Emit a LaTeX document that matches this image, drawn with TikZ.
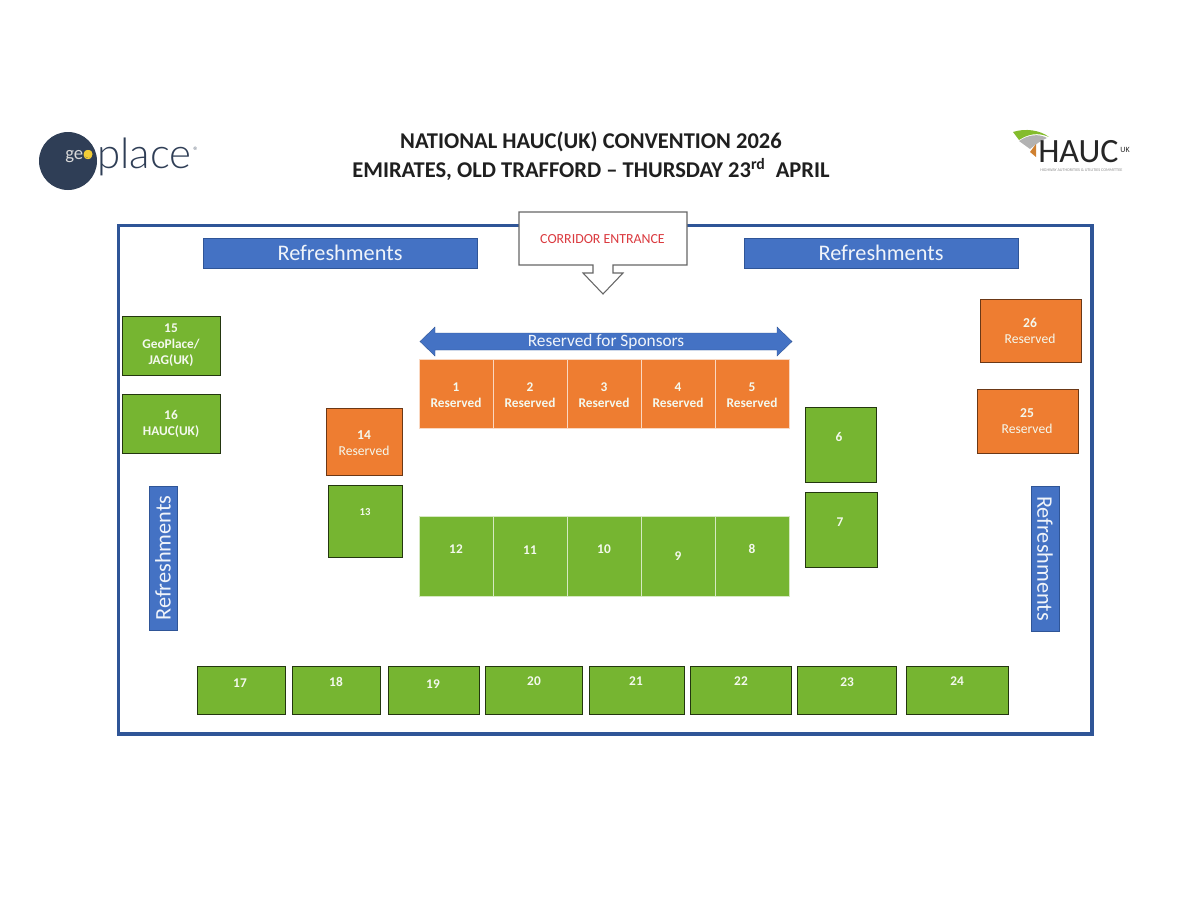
\documentclass[tikz,border=0pt]{standalone}
\usepackage{fontspec}
\setmainfont{Carlito}
\newfontfamily\logofont{Lato Light}
\definecolor{grn}{HTML}{76B531}
\definecolor{org}{HTML}{EE7D31}
\definecolor{blu}{HTML}{4472C4}
\definecolor{frm}{HTML}{2F5597}
\definecolor{navy}{HTML}{2F3E56}
\definecolor{corrred}{HTML}{DB3A3F}
\definecolor{dot}{HTML}{F2CD37}
\newcommand{\pxfont}[2]{\fontsize{#1}{#2}\selectfont}
\newcommand{\booth}[6]{% name x1 y1 x2 y2 style
  \node[#6, minimum width=(#4-#2)*0.75pt, minimum height=(#5-#3)*0.75pt] (#1) at ({(#2+#4)/2},{(#3+#5)/2}) {};}
\begin{document}
\begin{tikzpicture}[x=0.75pt,y=-0.75pt,
  boxbase/.style={rectangle,inner sep=0pt,outer sep=0pt},
  gbox/.style={boxbase,fill=grn,draw=black!70!grn,line width=0.6pt},
  obox/.style={boxbase,fill=org,draw=black!55!org,line width=0.6pt},
  gcell/.style={boxbase,fill=grn,draw=white!70!grn,line width=0.6pt},
  ocell/.style={boxbase,fill=org,draw=white!70!org,line width=0.6pt},
  rbox/.style={boxbase,fill=blu,draw=frm,line width=0.4pt},
  lab/.style={text=white!92!grn,font=\pxfont{10}{12}\bfseries,align=center,inner sep=0pt},
  lablight/.style={text=white!92!grn,font=\pxfont{10.2}{12}\selectfont,align=center,inner sep=0pt},
  reftext/.style={text=white!92!blu,font=\pxfont{16.7}{18}\selectfont,inner sep=0pt},
  titletext/.style={font=\pxfont{16.9}{22}\bfseries,text=black!88,align=center,inner sep=0pt}]
\useasboundingbox (0,0) rectangle (1200,900);
\fill[white] (0,0) rectangle (1200,900);

% title
\node[titletext] (title) at (591,156) {NATIONAL HAUC(UK) CONVENTION 2026\\EMIRATES, OLD TRAFFORD -- THURSDAY 23\textsuperscript{rd}\ \ APRIL};

% geoplace logo
\fill[navy] (68,161) circle [radius=29];
\fill[dot] (88.5,154) circle [radius=4];
\node[text=white!85!black,font=\pxfont{14}{16}\selectfont,inner sep=0pt,anchor=base west] (geo) at (65,159.5) {ge\textcolor{dot}{o}};
\node[text=navy,font=\logofont\pxfont{31.5}{34}\selectfont,inner sep=0pt,anchor=base west] (place) at (97,168.5) {place};
\node[text=navy!70,font=\pxfont{8}{9}\selectfont,inner sep=0pt] (reg) at (196,151) {®};

% HAUC logo
\fill[grn!90!yellow] (1013,132) .. controls (1025,128) and (1040,130) .. (1049,137) .. controls (1038,132) and (1028,134) .. (1019,140) -- cycle;
\fill[black!30] (1019,141) .. controls (1028,135) and (1038,133) .. (1047,138) .. controls (1042,140) and (1036,144) .. (1030,149) -- cycle;
\fill[brown!75!orange] (1030,152) -- (1036,144) -- (1036,157) -- cycle;
\node[text=black!85,font=\pxfont{25.5}{28}\selectfont,inner sep=0pt,anchor=base west] (hauc) at (1038,162) {HAUC};
\node[text=black!85,font=\pxfont{6}{7}\selectfont,inner sep=0pt] (uk) at (1125,150) {UK};
\node[text=black!45,font=\pxfont{3.1}{4}\selectfont,inner sep=0pt,anchor=west] (hauctag) at (1040,170.5) {HIGHWAY AUTHORITIES \& UTILITIES COMMITTEE};

% frame
\draw[frm,line width=2.8pt] (118.5,225.5) rectangle (1092,734);

% refreshments
\booth{r1}{203}{238}{477}{268}{rbox}
\booth{r2}{744}{238}{1018}{268}{rbox}
\booth{r3}{149}{486}{177}{630}{rbox}
\booth{r4}{1031}{486}{1059}{631}{rbox}
\node[reftext] at (r1) {Refreshments};
\node[reftext] at (r2) {Refreshments};
\node[reftext,rotate=90] at (r3) {Refreshments};
\node[reftext,rotate=-90] at (r4) {Refreshments};

% corridor entrance
\draw[fill=white,draw=black!60,line width=0.8pt,line join=miter] (519,212) -- (687,212) -- (687,265) -- (613,265) -- (613,273) -- (623,273) -- (603,294) -- (583,273) -- (593,273) -- (593,265) -- (519,265) -- cycle;
\node[text=corrred,font=\pxfont{10.4}{12}\selectfont,inner sep=0pt] (corr) at (602.5,239) {CORRIDOR ENTRANCE};

% sponsors arrow
\fill[blu,draw=frm,line width=0.3pt] (420,341.5) -- (435,327) -- (435,333) -- (777,333) -- (777,327) -- (792,341.5) -- (777,356) -- (777,350) -- (435,350) -- (435,356) -- cycle;
\node[text=white!92!blu,font=\pxfont{13}{15}\selectfont,inner sep=0pt] (spons) at (606,342) {Reserved for Sponsors};

% top row
\foreach \n/\a/\b in {1/419/493,2/493/567,3/567/641,4/641/715,5/715/789}{
  \booth{b\n}{\a}{359}{\b}{428}{ocell}
  \node[lab] at ({(\a+\b)/2},395) {\n\\Reserved};
}
% lower row
\foreach \n/\a/\b/\ly in {12/419/493/549,11/493/567/550,10/567/641/549,9/641/715/556,8/715/789/549}{
  \booth{b\n}{\a}{516}{\b}{596}{gcell}
  \node[lab] at ({(\a+\b)/2},\ly) {\n};
}
% bottom row
\foreach \n/\a/\b/\lx/\ly in {17/197/285/240/683,18/292/380/336/682,19/388/479/433/684,20/485/582/534/681,21/589/684/636/681,22/690/791/741/681,23/797/896/847/682,24/906/1008/957/681}{
  \booth{b\n}{\a}{666}{\b}{714}{gbox}
  \node[lab] at (\lx,\ly) {\n};
}
% individual booths
\booth{b15}{122}{316}{220}{375}{gbox}
\node[lab] at (171,345.5) {15\\GeoPlace/\\JAG(UK)};
\booth{b16}{122}{394}{220}{453}{gbox}
\node[lab] at (171,424) {16\\HAUC(UK)};
\booth{b14}{326}{408}{402}{475}{obox}
\node[lablight] at (364,443) {\textbf{14}\\Reserved};
\booth{b13}{328}{485}{402}{557}{gbox}
\node[lab,font=\pxfont{8}{9}\bfseries] at (365,512) {13};
\booth{b6}{805}{407}{876}{482}{gbox}
\node[lab] at (839,437) {6};
\booth{b7}{805}{492}{877}{567}{gbox}
\node[lab] at (840,522) {7};
\booth{b26}{980}{299}{1081}{362}{obox}
\node[lablight] at (1030,331) {\textbf{26}\\Reserved};
\booth{b25}{977}{389}{1078}{453}{obox}
\node[lablight] at (1027,421) {\textbf{25}\\Reserved};
\end{tikzpicture}
\end{document}
